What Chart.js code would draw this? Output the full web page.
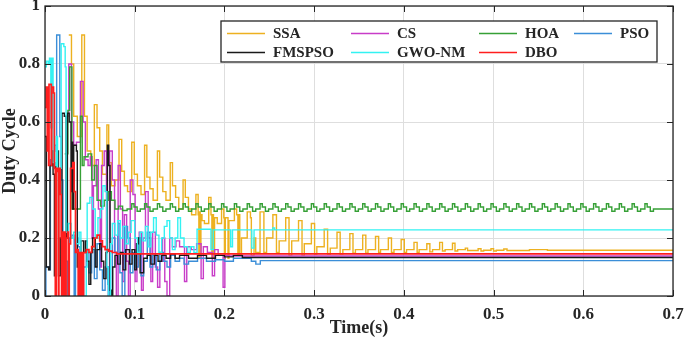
<!DOCTYPE html>
<html>
<head>
<meta charset="utf-8">
<script src="https://cdn.jsdelivr.net/npm/chart.js@4.4.1/dist/chart.umd.min.js"></script>
<style>
  html, body { margin: 0; padding: 0; background: #fff; }
</style>
</head>
<body>
<canvas id="dutyChart" width="685" height="342"></canvas>
<script>
// series names / colours, in legend order
const seriesNames = ['SSA', 'CS', 'HOA', 'PSO', 'FMSPSO', 'GWO-NM', 'DBO'];
const seriesColors = ['#EDB120', '#C83CC8', '#36A036', '#3B8ED8', '#1A1A1A', '#33F2F2', '#FF1E1E'];

const xTicks = [0, 0.1, 0.2, 0.3, 0.4, 0.5, 0.6, 0.7];
const xTickLabels = ['0', '0.1', '0.2', '0.3', '0.4', '0.5', '0.6', '0.7'];
const yTicks = [0, 0.2, 0.4, 0.6, 0.8, 1];
const yTickLabels = ['0', '0.2', '0.4', '0.6', '0.8', '1'];

// [time (s), duty cycle] - value holds from that time on
const ssa = [
  [0.0265,0.9],[0.0295,0.8],[0.032,0.62],[0.036,0.55],
  [0.041,0.9],[0.044,0.62],[0.047,0.5],[0.051,0.45],
  [0.055,0.66],[0.058,0.58],[0.061,0.5],[0.064,0.42],
  [0.069,0.59],[0.071,0.46],[0.074,0.38],[0.078,0.4],
  [0.0825,0.54],[0.0855,0.43],[0.0885,0.38],[0.092,0.36],
  [0.0967,0.53],[0.0995,0.42],[0.103,0.38],[0.107,0.35],
  [0.111,0.52],[0.1135,0.41],[0.117,0.37],[0.1205,0.33],
  [0.1253,0.5],[0.1278,0.41],[0.1313,0.36],[0.1348,0.33],
  [0.1396,0.46],[0.1421,0.38],[0.1456,0.34],[0.1491,0.3],
  [0.1539,0.4],[0.1564,0.34],[0.1599,0.3],[0.1634,0.28],
  [0.1682,0.35],[0.1707,0.28],[0.1715,0.13],[0.1722,0.29],[0.173,0.13],[0.1738,0.28],[0.175,0.26],[0.1777,0.25],
  [0.1825,0.34],[0.185,0.28],[0.186,0.13],[0.1868,0.28],[0.1878,0.13],[0.189,0.27],[0.192,0.25],
  [0.1968,0.3],[0.1993,0.27],[0.2,0.13],[0.201,0.27],[0.204,0.13],[0.205,0.26],
  [0.2111,0.3],[0.2136,0.28],[0.215,0.14],[0.216,0.28],[0.2171,0.14],[0.219,0.2],
  [0.2254,0.29],[0.229,0.27],[0.23,0.14],[0.233,0.2],[0.2349,0.15],
  [0.2397,0.29],[0.244,0.15],[0.247,0.2],
  [0.254,0.28],[0.258,0.15],[0.261,0.19],
  [0.2683,0.27],[0.272,0.14],[0.275,0.19],
  [0.2826,0.26],[0.2865,0.14],[0.289,0.18],
  [0.2969,0.25],[0.3005,0.145],[0.303,0.17],
  [0.3112,0.23],[0.315,0.145],[0.318,0.165],
  [0.3255,0.22],[0.329,0.145],[0.332,0.16],
  [0.3398,0.215],[0.3433,0.148],[0.346,0.16],
  [0.3541,0.21],[0.3576,0.148],[0.36,0.16],
  [0.3684,0.205],[0.3719,0.15],[0.374,0.16],
  [0.3827,0.2],[0.3862,0.15],[0.389,0.16],
  [0.397,0.195],[0.4005,0.15],[0.403,0.16],
  [0.4113,0.185],[0.4148,0.15],[0.417,0.16],
  [0.4256,0.18],[0.429,0.152],[0.432,0.16],
  [0.4399,0.185],[0.443,0.155],[0.446,0.16],
  [0.4542,0.182],[0.457,0.155],[0.46,0.16],
  [0.4685,0.165],[0.471,0.157],
  [0.4828,0.163],[0.486,0.155],[0.489,0.158],
  [0.4971,0.163],[0.5,0.155],[0.503,0.158],
  [0.5114,0.162],[0.515,0.157],
  [0.54,0.16],[0.56,0.158],[0.7,0.158]
];

const cs = [
  [0.024,0.62],[0.0265,0.8],[0.0295,0.6],[0.032,0.52],[0.035,0.53],[0.0395,0.74],[0.0425,0.6],
  [0.045,0.47],[0.048,0.45],[0.0505,0.48],[0.0525,0.2],[0.054,0.38],[0.057,0.47],[0.0595,0.3],
  [0.0615,0.1],[0.063,0.45],[0.066,0.5],[0.0685,0.1],[0.0705,0.0],[0.072,0.5],[0.075,0.4],
  [0.0775,0.15],[0.0795,0.0],[0.0815,0.45],[0.084,0.3],[0.0865,0.05],[0.0885,0.28],[0.091,0.12],
  [0.093,0.0],[0.095,0.4],[0.098,0.35],[0.1005,0.05],[0.1025,0.18],[0.105,0.22],[0.1075,0.02],
  [0.1095,0.2],[0.112,0.36],[0.115,0.2],[0.118,0.05],[0.12,0.22],[0.123,0.1],[0.1255,0.03],
  [0.128,0.12],[0.131,0.2],[0.1335,0.05],[0.136,0.0],[0.139,0.2],[0.142,0.17],[0.146,0.19],
  [0.15,0.17],[0.1555,0.05],[0.158,0.17],[0.163,0.16],[0.169,0.18],[0.174,0.06],[0.1765,0.17],
  [0.181,0.15],[0.1865,0.07],[0.189,0.16],[0.193,0.14],[0.1985,0.03],[0.2005,0.14],[0.205,0.138],
  [0.7,0.135]
];

const hoa = [
  [0.022,0.49],[0.0255,0.64],[0.0275,0.79],[0.03,0.3],[0.0395,0.62],[0.0415,0.45],[0.0435,0.48],
  [0.048,0.49],[0.052,0.4],[0.055,0.45],[0.058,0.33],[0.062,0.31],[0.066,0.33],[0.0705,0.36],
  [0.074,0.33],[0.078,0.3],[0.082,0.31],[0.0865,0.295],[0.0915,0.3],
  [0.0967,0.318],[0.0992,0.307],[0.1027,0.292],[0.1062,0.3],
  [0.111,0.318],[0.1135,0.307],[0.117,0.292],[0.1205,0.3],
  [0.1253,0.318],[0.1278,0.307],[0.1313,0.292],[0.1348,0.3],
  [0.1396,0.318],[0.1421,0.307],[0.1456,0.292],[0.1491,0.3],
  [0.1539,0.318],[0.1564,0.307],[0.1599,0.292],[0.1634,0.3],
  [0.1682,0.318],[0.1707,0.307],[0.1742,0.292],[0.1777,0.3],
  [0.1825,0.318],[0.185,0.307],[0.1885,0.292],[0.192,0.3],
  [0.1968,0.318],[0.1993,0.307],[0.2028,0.292],[0.2063,0.3],
  [0.2111,0.318],[0.2136,0.307],[0.2171,0.292],[0.2206,0.3],
  [0.2254,0.318],[0.2279,0.307],[0.2314,0.292],[0.2349,0.3],
  [0.2397,0.318],[0.2422,0.307],[0.2457,0.292],[0.2492,0.3],
  [0.254,0.318],[0.2565,0.307],[0.26,0.292],[0.2635,0.3],
  [0.2683,0.318],[0.2708,0.307],[0.2743,0.292],[0.2778,0.3],
  [0.2826,0.318],[0.2851,0.307],[0.2886,0.292],[0.2921,0.3],
  [0.2969,0.318],[0.2994,0.307],[0.3029,0.292],[0.3064,0.3],
  [0.3112,0.318],[0.3137,0.307],[0.3172,0.292],[0.3207,0.3],
  [0.3255,0.318],[0.328,0.307],[0.3315,0.292],[0.335,0.3],
  [0.3398,0.318],[0.3423,0.307],[0.3458,0.292],[0.3493,0.3],
  [0.3541,0.318],[0.3566,0.307],[0.3601,0.292],[0.3636,0.3],
  [0.3684,0.318],[0.3709,0.307],[0.3744,0.292],[0.3779,0.3],
  [0.3827,0.318],[0.3852,0.307],[0.3887,0.292],[0.3922,0.3],
  [0.397,0.318],[0.3995,0.307],[0.403,0.292],[0.4065,0.3],
  [0.4113,0.318],[0.4138,0.307],[0.4173,0.292],[0.4208,0.3],
  [0.4256,0.318],[0.4281,0.307],[0.4316,0.292],[0.4351,0.3],
  [0.4399,0.318],[0.4424,0.307],[0.4459,0.292],[0.4494,0.3],
  [0.4542,0.318],[0.4567,0.307],[0.4602,0.292],[0.4637,0.3],
  [0.4685,0.318],[0.471,0.307],[0.4745,0.292],[0.478,0.3],
  [0.4828,0.318],[0.4853,0.307],[0.4888,0.292],[0.4923,0.3],
  [0.4971,0.318],[0.4996,0.307],[0.5031,0.292],[0.5066,0.3],
  [0.5114,0.318],[0.5139,0.307],[0.5174,0.292],[0.5209,0.3],
  [0.5257,0.318],[0.5282,0.307],[0.5317,0.292],[0.5352,0.3],
  [0.54,0.318],[0.5425,0.307],[0.546,0.292],[0.5495,0.3],
  [0.5543,0.318],[0.5568,0.307],[0.5603,0.292],[0.5638,0.3],
  [0.5686,0.318],[0.5711,0.307],[0.5746,0.292],[0.5781,0.3],
  [0.5829,0.318],[0.5854,0.307],[0.5889,0.292],[0.5924,0.3],
  [0.5972,0.318],[0.5997,0.307],[0.6032,0.292],[0.6067,0.3],
  [0.6115,0.318],[0.614,0.307],[0.6175,0.292],[0.621,0.3],
  [0.6258,0.318],[0.6283,0.307],[0.6318,0.292],[0.6353,0.3],
  [0.6401,0.318],[0.6426,0.307],[0.6461,0.292],[0.6496,0.3],
  [0.6544,0.318],[0.6569,0.307],[0.6604,0.292],[0.6639,0.3],
  [0.6687,0.318],[0.6712,0.307],[0.6747,0.292],[0.6782,0.3],
  [0.7,0.302]
];

const pso = [
  [0,0],[0.001,0.1],[0.0045,0.09],[0.006,0.47],[0.0085,0.5],[0.011,0.52],[0.013,0.9],[0.0165,0.55],
  [0.018,0.4],[0.02,0.2],[0.023,0.12],[0.025,0.0],[0.027,0.2],[0.03,0.21],[0.0325,0.0],[0.034,0.2],
  [0.037,0.17],[0.039,0.05],[0.041,0.0],[0.043,0.1],[0.046,0.15],[0.049,0.08],[0.052,0.16],[0.055,0.06],
  [0.058,0.18],[0.061,0.09],[0.064,0.02],[0.067,0.1],[0.07,0.04],[0.072,0.0],[0.075,0.2],[0.078,0.15],
  [0.081,0.25],[0.0835,0.08],[0.086,0.0],[0.089,0.24],[0.092,0.2],[0.095,0.08],[0.098,0.15],[0.101,0.1],
  [0.104,0.2],[0.107,0.07],[0.11,0.12],[0.114,0.22],[0.117,0.1],[0.12,0.14],[0.124,0.09],[0.128,0.15],
  [0.132,0.12],[0.136,0.1],[0.14,0.14],[0.145,0.12],[0.15,0.13],[0.155,0.11],[0.16,0.12],[0.17,0.13],
  [0.18,0.12],[0.19,0.125],[0.2,0.12],[0.21,0.13],[0.23,0.12],[0.235,0.11],[0.24,0.122],[0.7,0.123]
];

const fmspso = [
  [0,0.55],[0.0015,0.1],[0.004,0.09],[0.0055,0.45],[0.0075,0.5],[0.009,0.42],[0.0105,0.07],[0.012,0.45],
  [0.0135,0.5],[0.015,0.07],[0.017,0.2],[0.019,0.63],[0.0215,0.62],[0.0235,0.2],[0.025,0.63],[0.027,0.6],
  [0.029,0.36],[0.03,0.53],[0.031,0.3],[0.032,0.52],[0.035,0.5],[0.036,0.1],[0.038,0.08],[0.04,0.19],
  [0.043,0.15],[0.045,0.19],[0.047,0.12],[0.049,0.04],[0.051,0.15],[0.053,0.2],[0.056,0.1],[0.058,0.16],
  [0.061,0.18],[0.063,0.12],[0.0655,0.06],[0.068,0.15],[0.0695,0.52],[0.071,0.45],[0.0725,0.02],[0.074,0.0],
  [0.0755,0.1],[0.078,0.14],[0.081,0.11],[0.084,0.15],[0.087,0.09],[0.09,0.16],[0.094,0.11],[0.097,0.16],
  [0.1,0.09],[0.102,0.18],[0.104,0.2],[0.106,0.08],[0.11,0.13],[0.114,0.14],[0.118,0.11],[0.122,0.14],
  [0.126,0.12],[0.13,0.14],[0.135,0.13],[0.14,0.145],[0.145,0.13],[0.15,0.14],[0.16,0.13],[0.17,0.14],
  [0.18,0.13],[0.19,0.14],[0.2,0.135],[0.21,0.14],[0.22,0.133],[0.7,0.133]
];

const gwoNm = [
  [0,0.79],[0.0015,0.81],[0.0035,0.8],[0.005,0.82],[0.0065,0.58],[0.0075,0.82],[0.009,0.46],[0.011,0.45],
  [0.0125,0.55],[0.014,0.44],[0.0165,0.44],[0.018,0.87],[0.021,0.86],[0.0225,0.79],[0.0235,0.22],[0.026,0.25],
  [0.029,0.2],[0.032,0.22],[0.035,0.18],[0.038,0.22],[0.04,0.08],[0.0415,0.0],[0.046,0.1],[0.047,0.32],
  [0.05,0.34],[0.053,0.3],[0.056,0.2],[0.059,0.27],[0.062,0.3],[0.0645,0.38],[0.067,0.36],[0.069,0.1],
  [0.0705,0.0],[0.073,0.18],[0.075,0.25],[0.078,0.21],[0.081,0.26],[0.084,0.2],[0.087,0.24],[0.09,0.18],
  [0.093,0.22],[0.096,0.26],[0.1,0.2],[0.103,0.15],[0.106,0.22],[0.109,0.19],[0.112,0.24],[0.115,0.17],
  [0.118,0.22],[0.121,0.27],[0.124,0.21],[0.127,0.15],[0.13,0.2],[0.133,0.24],[0.136,0.26],[0.139,0.2],
  [0.142,0.16],[0.145,0.2],[0.148,0.27],[0.151,0.2],[0.155,0.17],[0.159,0.15],[0.162,0.17],[0.166,0.15],
  [0.1695,0.23],[0.185,0.16],[0.1875,0.228],[0.207,0.17],[0.209,0.228],[0.2305,0.165],[0.233,0.228],
  [0.254,0.235],[0.256,0.228],[0.7,0.228]
];

const dbo = [
  [0,0.65],[0.0012,0.72],[0.0025,0.5],[0.003,0.72],[0.004,0.45],[0.0045,0.73],[0.0065,0.73],[0.007,0.45],
  [0.0075,0.72],[0.0095,0.7],[0.0105,0.44],[0.0115,0.0],[0.0125,0.44],[0.014,0.43],[0.015,0.0],[0.0155,0.44],
  [0.017,0.35],[0.018,0.2],[0.0185,0.0],[0.0195,0.22],[0.0205,0.0],[0.0215,0.22],[0.0225,0.0],[0.0235,0.2],
  [0.025,0.22],[0.026,0.0],[0.027,0.18],[0.0285,0.44],[0.031,0.46],[0.0325,0.36],[0.034,0.15],[0.036,0.16],
  [0.037,0.0],[0.038,0.15],[0.0395,0.0],[0.0405,0.15],[0.042,0.0],[0.043,0.15],[0.046,0.16],[0.049,0.15],
  [0.052,0.17],[0.055,0.2],[0.058,0.21],[0.061,0.19],[0.064,0.17],[0.067,0.16],[0.071,0.155],[0.075,0.15],
  [0.08,0.145],[0.7,0.145]
];

const seriesData = [ssa, cs, hoa, pso, fmspso, gwoNm, dbo];

const tickFont = { family: 'Liberation Serif', size: 17, weight: 'bold' };
const titleFont = { family: 'Liberation Serif', size: 18, weight: 'bold' };
const axisColor = '#262626';

// box, inward ticks (MATLAB style)
const framePlugin = {
  id: 'frame',
  afterDatasetsDraw(chart) {
    const { ctx, chartArea: a, scales } = chart;
    ctx.save();
    ctx.strokeStyle = axisColor;
    ctx.lineWidth = 1;
    ctx.beginPath();
    xTicks.forEach(v => {
      const x = Math.round(scales.x.getPixelForValue(v)) + 0.5;
      ctx.moveTo(x, a.bottom); ctx.lineTo(x, a.bottom - 6);
      ctx.moveTo(x, a.top); ctx.lineTo(x, a.top + 6);
    });
    yTicks.forEach(v => {
      const y = Math.round(scales.y.getPixelForValue(v)) + 0.5;
      ctx.moveTo(a.left, y); ctx.lineTo(a.left + 6, y);
      ctx.moveTo(a.right, y); ctx.lineTo(a.right - 6, y);
    });
    ctx.stroke();
    ctx.lineWidth = 1.3;
    ctx.strokeRect(a.left, a.top, a.right - a.left, a.bottom - a.top);
    ctx.restore();
  }
};

// legend box, 4 columns x 2 rows
const legendPlugin = {
  id: 'boxLegend',
  afterDraw(chart) {
    const ctx = chart.ctx;
    const colX = [227, 351, 479, 574];
    const rowY = [33, 52];
    ctx.save();
    ctx.fillStyle = '#fff';
    ctx.fillRect(221, 21, 436, 41);
    ctx.strokeStyle = axisColor;
    ctx.lineWidth = 1.3;
    ctx.strokeRect(221, 21, 436, 41);
    ctx.font = 'bold 15px "Liberation Serif"';
    ctx.textBaseline = 'middle';
    ctx.textAlign = 'left';
    seriesNames.forEach((name, i) => {
      const x = colX[i % 4];
      const y = rowY[Math.floor(i / 4)];
      ctx.strokeStyle = seriesColors[i];
      ctx.lineWidth = 1.3;
      ctx.beginPath();
      ctx.moveTo(x, y + 0.5);
      ctx.lineTo(x + 38, y + 0.5);
      ctx.stroke();
      ctx.fillStyle = axisColor;
      ctx.fillText(name, x + 46, y + 1);
    });
    ctx.restore();
  }
};

const ctx = document.getElementById('dutyChart').getContext('2d');
const chart = new Chart(ctx, {
  type: 'line',
  data: {
    datasets: seriesNames.map((name, i) => ({
      label: name,
      data: seriesData[i].map(p => ({ x: p[0], y: p[1] })),
      borderColor: seriesColors[i],
      borderWidth: name === 'DBO' ? 1.7 : 1.4,
      stepped: true,
      pointRadius: 0,
      fill: false,
      order: seriesNames.length - 1 - i
    }))
  },
  options: {
    responsive: false,
    animation: false,
    devicePixelRatio: 1,
    layout: { padding: { top: 6, right: 12, left: 0, bottom: 0 } },
    plugins: { legend: { display: false }, tooltip: { enabled: false } },
    scales: {
      x: {
        type: 'linear', min: 0, max: 0.7,
        afterBuildTicks: s => { s.ticks = xTicks.map(v => ({ value: v })); },
        afterFit: s => { s.height = 46; s.paddingLeft = 0; s.paddingRight = 0; },
        ticks: { font: tickFont, color: axisColor, padding: 8, autoSkip: false, maxRotation: 0,
                 callback: (v, i) => xTickLabels[i] },
        grid: { color: '#dedede', drawTicks: false },
        border: { display: false },
        title: { display: true, text: 'Time(s)', font: titleFont, color: axisColor, padding: { top: 0, bottom: 3 } }
      },
      y: {
        type: 'linear', min: 0, max: 1,
        afterBuildTicks: s => { s.ticks = yTicks.map(v => ({ value: v })); },
        afterFit: s => { s.width = 45; s.paddingTop = 0; s.paddingBottom = 0; },
        ticks: { font: tickFont, color: axisColor, padding: 5, callback: (v, i) => yTickLabels[i] },
        grid: { color: '#dedede', drawTicks: false },
        border: { display: false },
        title: { display: true, text: 'Duty Cycle', font: titleFont, color: axisColor, padding: { top: 0, bottom: 0 } }
      }
    }
  },
  plugins: [framePlugin, legendPlugin]
});
</script>
</body>
</html>
